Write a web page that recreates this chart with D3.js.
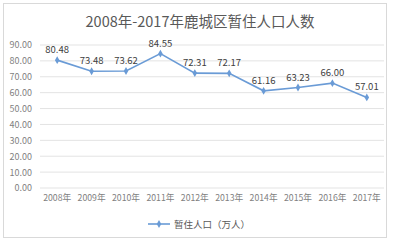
<!DOCTYPE html>
<html>
<head>
<meta charset="utf-8">
<script src="https://cdn.jsdelivr.net/npm/d3@7"></script>
<style>
  body { margin: 0; background: #fff; }
  svg text { font-family: "Noto Sans CJK SC", "Liberation Sans", sans-serif; }
</style>
</head>
<body>
<div id="chart"></div>
<script>
const years = ["2008年", "2009年", "2010年", "2011年", "2012年", "2013年", "2014年", "2015年", "2016年", "2017年"];
const population = [80.48, 73.48, 73.62, 84.55, 72.31, 72.17, 61.16, 63.23, 66.00, 57.01];
const yTicks = [0, 10, 20, 30, 40, 50, 60, 70, 80, 90];
const title = "2008年-2017年鹿城区暂住人口人数";
const seriesName = "暂住人口（万人）";

const W = 400, H = 243;
const margin = { top: 45, right: 16, bottom: 55, left: 40 };
const width = W - margin.left - margin.right;
const height = H - margin.top - margin.bottom;
const lineColor = "#6a9bd6";

const svg = d3.select("#chart").append("svg")
    .attr("width", W)
    .attr("height", H);

// chart frame
svg.append("rect")
    .attr("x", 3.5).attr("y", 3.5)
    .attr("width", 383).attr("height", 234)
    .attr("fill", "#fff")
    .attr("stroke", "#d9d9d9");

svg.append("text")
    .attr("x", 200).attr("y", 27)
    .attr("text-anchor", "middle")
    .style("font-size", "14.5px")
    .style("fill", "#595959")
    .text(title);

const g = svg.append("g")
    .attr("transform", "translate(" + margin.left + "," + margin.top + ")");

const x = d3.scaleBand().domain(years).range([0, width]);
const y = d3.scaleLinear().domain([0, 90]).range([height, 0]);

// gridlines
g.selectAll(".grid")
    .data(yTicks)
    .enter().append("line")
    .attr("x1", 0).attr("x2", width)
    .attr("y1", d => y(d)).attr("y2", d => y(d))
    .attr("stroke", "#e3e3e3");

// y axis labels
const yAxis = g.append("g")
    .call(d3.axisLeft(y).tickValues(yTicks).tickFormat(d => d.toFixed(2)).tickSize(0).tickPadding(8));
yAxis.select(".domain").remove();
yAxis.selectAll("text")
    .style("font-size", "9px")
    .style("fill", "#7f7f7f")
    .style("font-family", "'Noto Sans CJK SC', sans-serif");

// x axis labels
const xAxis = g.append("g")
    .attr("transform", "translate(0," + height + ")")
    .call(d3.axisBottom(x).tickSize(0).tickPadding(7));
xAxis.select(".domain").remove();
xAxis.selectAll("text")
    .style("font-size", "8.7px")
    .style("fill", "#7f7f7f")
    .style("font-family", "'Noto Sans CJK SC', sans-serif");

const cx = d => x(d) + x.bandwidth() / 2;

const line = d3.line()
    .x((d, i) => cx(years[i]))
    .y(d => y(d));

g.append("path")
    .datum(population)
    .attr("fill", "none")
    .attr("stroke", lineColor)
    .attr("stroke-width", 1.6)
    .attr("d", line);

const diamond = d3.symbol().type(d3.symbolDiamond).size(18);

g.selectAll(".pt")
    .data(population)
    .enter().append("path")
    .attr("transform", (d, i) => "translate(" + cx(years[i]) + "," + y(d) + ")")
    .attr("d", diamond)
    .attr("fill", lineColor);

g.selectAll(".lbl")
    .data(population)
    .enter().append("text")
    .attr("x", (d, i) => cx(years[i]))
    .attr("y", d => y(d) - 7)
    .attr("text-anchor", "middle")
    .style("font-size", "9.5px")
    .style("fill", "#404040")
    .text(d => d.toFixed(2));

// legend
const legend = svg.append("g").attr("transform", "translate(148,224)");
legend.append("line")
    .attr("x1", 0).attr("x2", 22)
    .attr("stroke", lineColor).attr("stroke-width", 1.6);
legend.append("path")
    .attr("transform", "translate(11,0)")
    .attr("d", diamond)
    .attr("fill", lineColor);
legend.append("text")
    .attr("x", 26).attr("y", 3.5)
    .style("font-size", "9.5px")
    .style("fill", "#595959")
    .text(seriesName);
</script>
</body>
</html>
